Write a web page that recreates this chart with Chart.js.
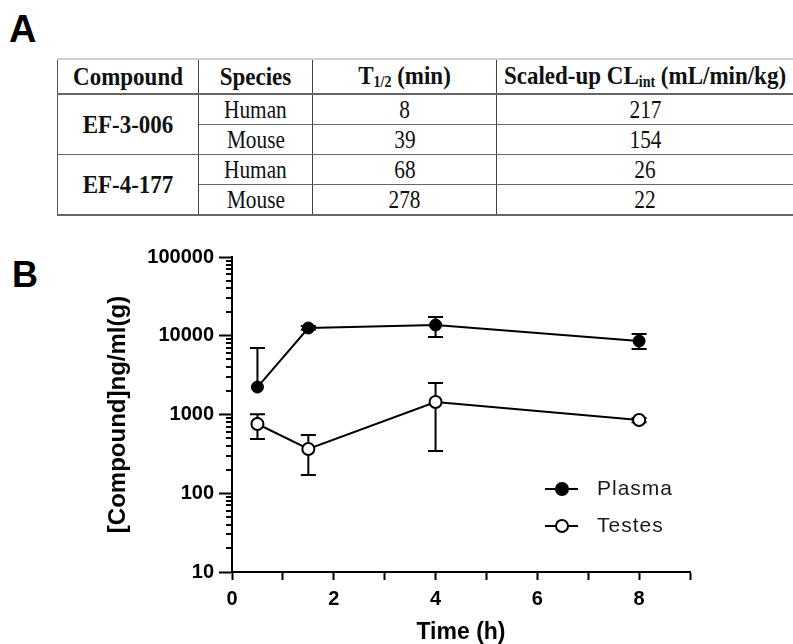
<!DOCTYPE html>
<html>
<head>
<meta charset="utf-8">
<title>Compound PK</title>
<script src="https://cdn.jsdelivr.net/npm/chart.js@4.4.0/dist/chart.umd.min.js"></script>
<style>
  html, body { margin: 0; padding: 0; width: 793px; height: 644px; overflow: hidden; background: #fff; }
  .panel-label { position: absolute; font-family: "Liberation Sans", Arial, sans-serif; font-weight: bold; color: #000; line-height: 1; }
  #labelA { left: 9px; top: 10px; font-size: 38px; }
  #labelB { left: 12px; top: 257px; font-size: 36px; }
  #stab { position: absolute; left: 57px; top: 58px; width: 736px; border-collapse: collapse; table-layout: fixed;
          font-family: "Liberation Serif", "Times New Roman", serif; color: #111; font-size: 22px;
          border-top: 2px solid #d0d0d0; border-bottom: 2px solid #666; border-left: 1px solid #555; }
  #stab th { font-weight: bold; font-size: 23px; height: 33px; padding: 0; border-bottom: 2px solid #666; border-right: 1px solid #444; white-space: nowrap; }
  #stab td { height: 29px; padding: 0; text-align: center; border-bottom: 1px solid #666; border-right: 1px solid #444; }
  #stab td.cmpd { font-weight: bold; font-size: 23px; }
  #stab .t { display: inline-block; transform: scale(0.97, 1.16); }
  #stab th .t, #stab td.cmpd .t { transform: scale(1, 1.12); }
  #stab sub { font-size: 14px; vertical-align: -3px; }
  #chartBox { position: absolute; left: 0; top: 230px; width: 793px; height: 414px; }
</style>
</head>
<body>
<div id="labelA" class="panel-label">A</div>
<table id="stab">
  <colgroup><col style="width:141px"><col style="width:114px"><col style="width:184px"><col style="width:297px"></colgroup>
  <thead>
    <tr>
      <th><span class="t">Compound</span></th>
      <th><span class="t">Species</span></th>
      <th><span class="t">T<sub>1/2</sub> (min)</span></th>
      <th><span class="t">Scaled-up CL<sub>int</sub> (mL/min/kg)</span></th>
    </tr>
  </thead>
  <tbody id="stabBody"></tbody>
</table>
<div id="labelB" class="panel-label">B</div>
<div id="chartBox"><canvas id="pkChart" width="793" height="414"></canvas></div>

<script>
// Table A data
const compounds = ['EF-3-006', 'EF-4-177'];
const species = ['Human', 'Mouse'];
const halfLifeMin = [[8, 39], [68, 278]];
const clIntScaled = [[217, 154], [26, 22]];

// Panel B data
const timeH = [0.5, 1.5, 4, 8];
const plasmaMean = [2230, 12540, 13700, 8570];
const plasmaHigh = [6990, 13300, 17300, 10500];
const plasmaLow = [null, 11900, 9640, 6800];
const testesMean = [757, 365, 1442, 851];
const testesHigh = [1010, 550, 2510, 900];
const testesLow = [489, 171, 344, 800];

const xTicks = [0, 1, 2, 3, 4, 5, 6, 7, 8, 9];
const xTickLabels = ['0', '', '2', '', '4', '', '6', '', '8', ''];
const yDecades = [10, 100, 1000, 10000, 100000];
const yTickLabels = ['10', '100', '1000', '10000', '100000'];

const SANS = '"Liberation Sans", Arial, sans-serif';

// build table rows
const tbody = document.getElementById('stabBody');
function cell(text, cls) {
    const td = document.createElement('td');
    if (cls) td.className = cls;
    const span = document.createElement('span');
    span.className = 't';
    span.textContent = text;
    td.appendChild(span);
    return td;
}
compounds.forEach((c, ci) => {
    species.forEach((sp, si) => {
        const tr = document.createElement('tr');
        if (si === 0) {
            const td = cell(c, 'cmpd');
            td.rowSpan = species.length;
            tr.appendChild(td);
        }
        tr.appendChild(cell(sp));
        tr.appendChild(cell(halfLifeMin[ci][si]));
        tr.appendChild(cell(clIntScaled[ci][si]));
        tbody.appendChild(tr);
    });
});

// error bars drawn behind the markers
const errorBars = {
    id: 'errorBars',
    beforeDatasetsDraw(chart) {
        const { ctx, scales: { x, y } } = chart;
        ctx.save();
        ctx.strokeStyle = '#000';
        ctx.lineWidth = 2;
        chart.data.datasets.forEach(ds => {
            ds.data.forEach((p, i) => {
                const px = x.getPixelForValue(p.x);
                const py = y.getPixelForValue(p.y);
                [ds.errHigh[i], ds.errLow[i]].forEach(v => {
                    if (v == null) return;
                    const ey = y.getPixelForValue(v);
                    ctx.beginPath();
                    ctx.moveTo(px, py);
                    ctx.lineTo(px, ey);
                    ctx.moveTo(px - 7.5, ey);
                    ctx.lineTo(px + 7.5, ey);
                    ctx.stroke();
                });
            });
        });
        ctx.restore();
    }
};

// short minor ticks on the log axis (2..9 of each decade)
const yMinorTicks = {
    id: 'yMinorTicks',
    afterDraw(chart) {
        const { ctx, scales: { y } } = chart;
        const left = chart.chartArea.left;
        ctx.save();
        ctx.strokeStyle = '#000';
        ctx.lineWidth = 2;
        yDecades.slice(0, -1).forEach(d => {
            for (let k = 2; k <= 9; k++) {
                const py = Math.round(y.getPixelForValue(k * d));
                ctx.beginPath();
                ctx.moveTo(left, py);
                ctx.lineTo(left - 6, py);
                ctx.stroke();
            }
        });
        ctx.restore();
    }
};

// legend inside the plot, lower right
const insideLegend = {
    id: 'insideLegend',
    afterDraw(chart) {
        const { ctx } = chart;
        const rows = [259, 296];
        ctx.save();
        chart.data.datasets.forEach((ds, i) => {
            const ly = rows[i];
            ctx.strokeStyle = '#000';
            ctx.lineWidth = 2;
            ctx.beginPath();
            ctx.moveTo(545, ly);
            ctx.lineTo(578, ly);
            ctx.stroke();
            ctx.beginPath();
            ctx.arc(562, ly, 6, 0, Math.PI * 2);
            ctx.fillStyle = ds.pointBackgroundColor;
            ctx.fill();
            ctx.stroke();
            ctx.fillStyle = '#1a1a1a';
            ctx.font = '21px ' + SANS;
            ctx.letterSpacing = '1px';
            ctx.textBaseline = 'middle';
            ctx.fillText(ds.label, 597, ly);
        });
        ctx.restore();
    }
};

new Chart(document.getElementById('pkChart'), {
    type: 'line',
    data: {
        datasets: [
            {
                label: 'Plasma',
                data: timeH.map((t, i) => ({ x: t, y: plasmaMean[i] })),
                errHigh: plasmaHigh,
                errLow: plasmaLow,
                borderColor: '#000',
                borderWidth: 2,
                pointRadius: 6,
                pointBackgroundColor: '#000',
                pointBorderColor: '#000',
                pointBorderWidth: 1,
                tension: 0
            },
            {
                label: 'Testes',
                data: timeH.map((t, i) => ({ x: t, y: testesMean[i] })),
                errHigh: testesHigh,
                errLow: testesLow,
                borderColor: '#000',
                borderWidth: 2,
                pointRadius: 6,
                pointBackgroundColor: '#fff',
                pointBorderColor: '#000',
                pointBorderWidth: 2,
                tension: 0
            }
        ]
    },
    options: {
        responsive: false,
        animation: false,
        devicePixelRatio: 1,
        layout: { padding: { top: 27, right: 103, left: 0, bottom: 0 } },
        plugins: {
            legend: { display: false },
            tooltip: { enabled: false }
        },
        scales: {
            x: {
                type: 'linear',
                min: 0,
                max: 9,
                afterBuildTicks: s => { s.ticks = xTicks.map(v => ({ value: v })); },
                afterFit: s => { s.height = 72; },
                ticks: {
                    callback: (v, i) => xTickLabels[i],
                    font: { family: SANS, size: 20, weight: 'bold' },
                    color: '#000',
                    padding: 7,
                    maxRotation: 0,
                    autoSkip: false
                },
                grid: { drawOnChartArea: false, drawTicks: true, tickLength: 8, tickWidth: 2, tickColor: '#000' },
                border: { display: true, color: '#000', width: 2 },
                title: {
                    display: true,
                    text: 'Time (h)',
                    font: { family: SANS, size: 23, weight: 'bold' },
                    color: '#000',
                    padding: { top: 0, bottom: -2 }
                }
            },
            y: {
                type: 'logarithmic',
                min: 10,
                max: 100000,
                afterBuildTicks: s => { s.ticks = yDecades.map(v => ({ value: v, major: true })); },
                afterFit: s => { s.width = 232; },
                ticks: {
                    callback: (v, i) => yTickLabels[i],
                    font: { family: SANS, size: 20, weight: 'bold' },
                    color: '#000',
                    padding: 5,
                    autoSkip: false
                },
                grid: { drawOnChartArea: false, drawTicks: true, tickLength: 13, tickWidth: 2, tickColor: '#000' },
                border: { display: true, color: '#000', width: 2 },
                title: {
                    display: true,
                    text: '[Compound]ng/ml(g)',
                    font: { family: SANS, size: 24, weight: 'bold' },
                    color: '#000',
                    padding: { top: 104, bottom: 0 }
                }
            }
        }
    },
    plugins: [errorBars, yMinorTicks, insideLegend]
});
</script>
</body>
</html>
